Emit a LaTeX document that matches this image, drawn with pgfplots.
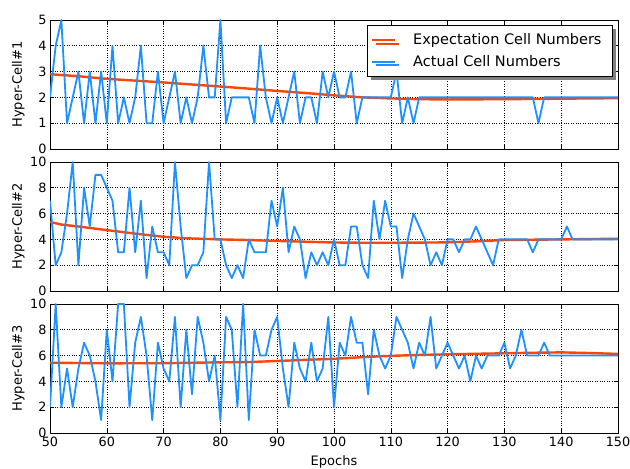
\documentclass[border=0pt]{standalone}
\usepackage{fontspec}
\setmainfont{DejaVu Sans}
\usepackage{pgfplots}
\pgfplotsset{compat=1.18}
\usepackage{pgfplotstable}
\usetikzlibrary{shadows}
\definecolor{expc}{HTML}{FF4500}
\definecolor{actc}{HTML}{1E90FF}

\pgfplotstableread{
e v
50 2
51 4
52 5
53 1
54 2
55 3
56 1
57 3
58 1
59 3
60 1
61 4
62 1
63 2
64 1
65 2
66 4
67 1
68 1
69 3
70 1
71 2
72 3
73 1
74 2
75 1
76 2
77 4
78 2
79 2
80 5
81 1
82 2
83 2
84 2
85 2
86 1
87 4
88 2
89 1
90 2
91 1
92 2
93 3
94 1
95 2
96 2
97 1
98 3
99 2
100 3
101 2
102 2
103 3
104 1
105 2
106 2
107 2
108 2
109 2
110 2
111 3
112 1
113 2
114 1
115 2
116 2
120 2
125 2
130 2
135 2
136 1
137 2
140 2
145 2
150 2
}\actA

\pgfplotstableread{
e v
50 2.90
55 2.82
60 2.72
65 2.65
70 2.58
75 2.50
80 2.42
85 2.34
90 2.25
95 2.17
100 2.08
105 2.00
110 1.96
115 1.93
120 1.92
130 1.93
140 1.95
150 1.97
}\expA

\pgfplotstableread{
e v
50 7
51 2
52 3
53 6
54 10
55 2
56 8
57 5
58 9
59 9
60 8
61 7
62 3
63 3
64 8
65 3
66 7
67 1
68 5
69 3
70 3
71 2
72 10
73 5
74 1
75 2
76 2
77 3
78 10
79 4
80 4
81 2
82 1
83 2
84 1
85 4
86 3
87 3
88 3
89 7
90 5
91 8
92 3
93 5
94 4
95 1
96 3
97 2
98 3
99 2
100 4
101 2
102 2
103 5
104 5
105 2
106 1
107 7
108 4
109 7
110 5
111 5
112 1
113 4
114 6
115 5
116 4
117 2
118 3
119 2
120 4
121 4
122 3
123 4
124 4
125 5
126 4
127 3
128 2
129 4
134 4
135 3
136 4
140 4
141 5
142 4
150 4
}\actB

\pgfplotstableread{
e v
50 5.35
52 5.15
55 5.00
60 4.72
65 4.45
70 4.20
72 4.15
73 4.10
80 4.00
85 3.95
90 3.88
95 3.82
100 3.76
105 3.74
110 3.74
115 3.75
120 3.77
125 3.85
130 3.95
140 4.00
150 4.05
}\expB

\pgfplotstableread{
e v
50 2
51 10
52 2
53 5
54 2
55 5
56 7
57 6
58 4
59 1
60 8
61 4
62 10
63 10
64 2
65 7
66 9
67 6
68 1
69 7
70 5
71 4
72 9
73 2
74 8
75 3
76 9
77 7
78 4
79 6
80 1
81 9
82 8
83 2
84 10
85 1
86 8
87 6
88 6
89 8
90 9
91 5
92 2
93 7
94 5
95 4
96 7
97 4
98 5
99 9
100 2
101 7
102 6
103 9
104 7
105 7
106 3
107 8
108 6
109 5
110 6
111 9
112 8
113 7
114 5
115 7
116 6
117 9
118 5
119 6
120 7
121 6
122 5
123 6
124 4
125 6
126 5
127 6
128 6
129 6
130 7
131 5
132 6
133 8
134 6
135 6
136 6
137 7
138 6
150 6
}\actC

\pgfplotstableread{
e v
50 5.45
60 5.40
70 5.41
80 5.48
85 5.50
90 5.58
95 5.67
100 5.75
105 5.88
110 5.98
115 6.05
120 6.10
125 6.14
130 6.18
135 6.22
140 6.25
145 6.20
150 6.13
}\expC

\pgfplotsset{
  panel/.style={
    scale only axis, width=568pt, height=129pt,
    xmin=50, xmax=150, xtick={50,60,...,150},
    grid=major,
    major grid style={black, dotted, line width=0.6pt},
    axis line style={line width=0.9pt},
    tick align=inside, xtick pos=both, ytick pos=both,
    major tick length=4pt,
    tick style={black, line width=0.6pt},
    /pgf/number format/assume math mode=true,
    tick label style={font=\fontsize{12.8}{14}\selectfont},
    label style={font=\fontsize{13}{15}\selectfont},
    ylabel style={at={(axis description cs:-0.056,0.5)}, anchor=center},
  },
  act/.style={color=actc, line width=1.8pt, no markers, line join=round},
  exp/.style={color=expc, line width=2.4pt, no markers},
}

\begin{document}
\begin{tikzpicture}[x=1pt,y=1pt]
\path[use as bounding box] (0,0) rectangle (630,469);

\begin{axis}[panel, at={(50pt,320pt)}, anchor=south west,
  ymin=0, ymax=5, ytick={0,1,...,5}, xticklabels={},
  ylabel={Hyper-Cell\#1},
  legend cell align=left,
  legend style={at={(1,1)}, anchor=north east, xshift=-5pt, yshift=-5pt,
    draw=black, line width=0.9pt, fill=white,
    drop shadow={shadow xshift=3.5pt, shadow yshift=-3.5pt, fill=black!50, opacity=1},
    font=\fontsize{14.5}{16}\selectfont, row sep=5pt,
    inner xsep=3pt, inner ysep=6.5pt,
    nodes={inner xsep=8pt, inner ysep=2pt},
    /tikz/every odd column/.append style={column sep=9pt}},
  legend image code/.code={\draw[#1] (0pt,0pt) -- (23pt,0pt);},
]
\addplot[exp] table[x=e,y=v] {\expA};
\addlegendentry{Expectation Cell Numbers}
\addplot[act] table[x=e,y=v] {\actA};
\addlegendentry{Actual Cell Numbers}
\end{axis}

\begin{axis}[panel, at={(50pt,178pt)}, anchor=south west,
  ymin=0, ymax=10, ytick={0,2,...,10}, xticklabels={},
  ylabel={Hyper-Cell\#2},
]
\addplot[exp] table[x=e,y=v] {\expB};
\addplot[act] table[x=e,y=v] {\actB};
\end{axis}

\begin{axis}[panel, at={(50pt,36pt)}, anchor=south west,
  ymin=0, ymax=10, ytick={0,2,...,10},
  ylabel={Hyper-Cell\#3}, xlabel={Epochs},
  xlabel style={at={(axis description cs:0.5,-0.225)}, anchor=center},
]
\addplot[exp] table[x=e,y=v] {\expC};
\addplot[act] table[x=e,y=v] {\actC};
\end{axis}
\end{tikzpicture}
\end{document}
